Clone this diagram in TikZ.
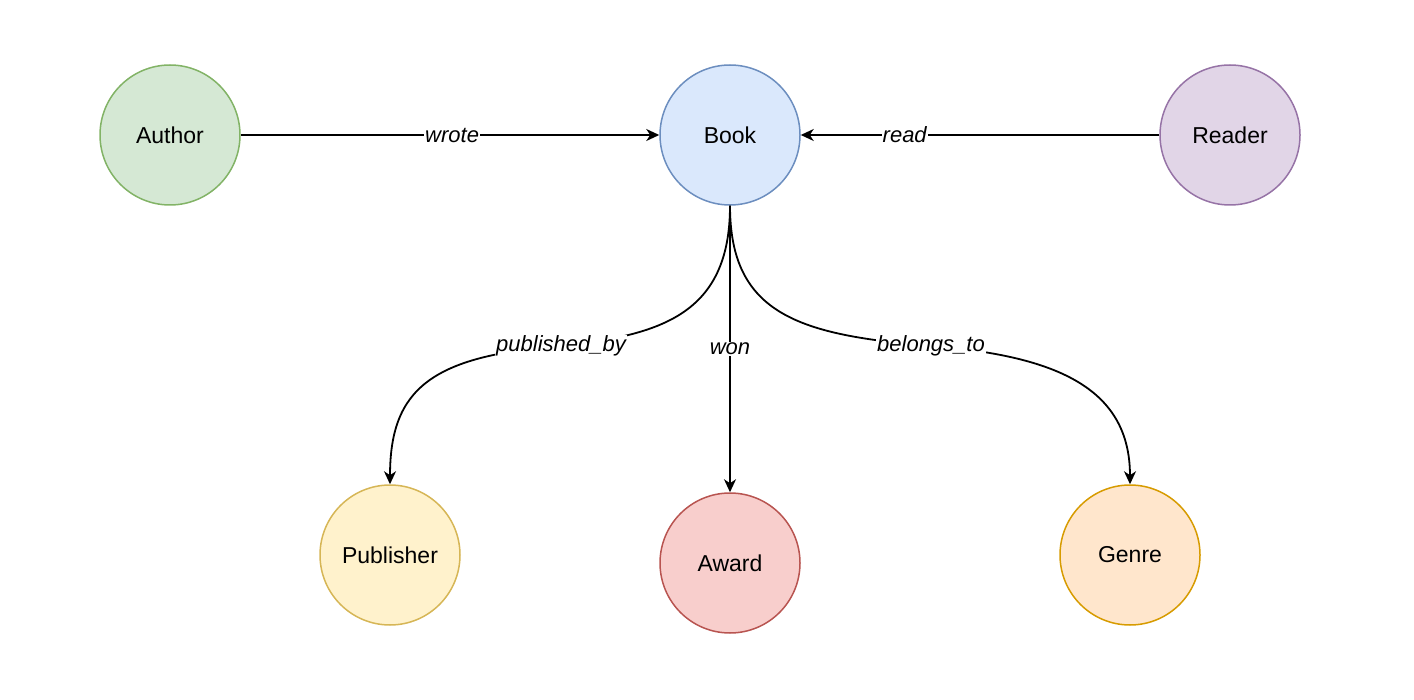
\documentclass[tikz,border=0pt]{standalone}
\usepackage{fontspec}
\setmainfont{Liberation Sans}
\usetikzlibrary{arrows.meta}
\definecolor{gfill}{HTML}{D5E8D4}\definecolor{gline}{HTML}{82B366}
\definecolor{bfill}{HTML}{DAE8FC}\definecolor{bline}{HTML}{6C8EBF}
\definecolor{pfill}{HTML}{E1D5E7}\definecolor{pline}{HTML}{9673A6}
\definecolor{yfill}{HTML}{FFF2CC}\definecolor{yline}{HTML}{D6B656}
\definecolor{rfill}{HTML}{F8CECC}\definecolor{rline}{HTML}{B85450}
\definecolor{ofill}{HTML}{FFE6CC}\definecolor{oline}{HTML}{D79B00}
\begin{document}
\begin{tikzpicture}[x=1pt,y=-1pt,
  ent/.style={circle,minimum size=140pt,inner sep=0pt,line width=1.5pt,font=\fontsize{23}{26}\selectfont},
  rel/.style={line width=1.8pt,-{Stealth[length=13pt,width=12pt,inset=4pt]}},
  lbl/.style={fill=white,inner sep=1pt,font=\fontsize{22}{24}\selectfont\itshape}]
\useasboundingbox (0,0) rectangle (1414,700);
\node[ent,fill=gfill,draw=gline] (author) at (170,135) {Author};
\node[ent,fill=bfill,draw=bline] (book) at (730,135) {Book};
\node[ent,fill=pfill,draw=pline] (reader) at (1230,135) {Reader};
\node[ent,fill=yfill,draw=yline] (pub) at (390,555) {Publisher};
\node[ent,fill=rfill,draw=rline] (award) at (730,563) {Award};
\node[ent,fill=ofill,draw=oline] (genre) at (1130,555) {Genre};
\draw[rel] (author) -- node[lbl,pos=0.505]{wrote} (book);
\draw[rel] (reader) -- node[lbl,pos=0.71]{read} (book);
\draw[rel] (book) -- node[lbl,pos=0.5]{won} (award);
\coordinate (pl) at (561,346);
\coordinate (gl) at (931,346);
\draw[rel] (book.south) .. controls (730,315) and (660,335) .. (pl) .. controls (430,356) and (390,390) .. (pub.north);
\draw[rel] (book.south) .. controls (730,315) and (800,335) .. (gl) .. controls (1060,356) and (1130,390) .. (genre.north);
\node[lbl] at (pl) {published\_by};
\node[lbl] at (gl) {belongs\_to};
\end{tikzpicture}
\end{document}
